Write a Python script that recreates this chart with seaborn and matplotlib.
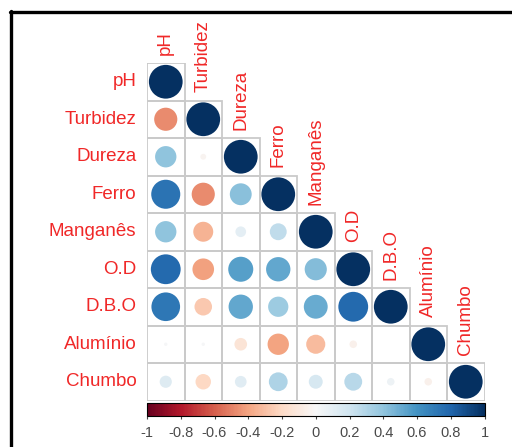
import numpy as np
import pandas as pd
import matplotlib
matplotlib.use("Agg")
import matplotlib.pyplot as plt
from matplotlib.patches import Rectangle
from matplotlib.lines import Line2D
import seaborn as sns

labels = ["pH", "Turbidez", "Dureza", "Ferro", "Manganês", "O.D", "D.B.O", "Alumínio", "Chumbo"]

# lower triangle of the correlation matrix, one row per variable
r_ph = [1.0]
r_turbidez = [-0.47, 1.0]
r_dureza = [0.40, -0.03, 1.0]
r_ferro = [0.74, -0.47, 0.42, 1.0]
r_manganes = [0.40, -0.35, 0.10, 0.25, 1.0]
r_od = [0.78, -0.41, 0.55, 0.52, 0.43, 1.0]
r_dbo = [0.72, -0.27, 0.52, 0.36, 0.50, 0.78, 1.0]
r_aluminio = [0.01, 0.01, -0.14, -0.40, -0.32, -0.05, 0.0, 1.0]
r_chumbo = [0.13, -0.21, 0.12, 0.31, 0.17, 0.28, 0.05, -0.05, 1.0]
rows = [r_ph, r_turbidez, r_dureza, r_ferro, r_manganes, r_od, r_dbo, r_aluminio, r_chumbo]

cbar_ticks = [-1, -0.8, -0.6, -0.4, -0.2, 0, 0.2, 0.4, 0.6, 0.8, 1]

records = []
for i, row in enumerate(rows):
    for j, r in enumerate(row):
        records.append({"row": i, "col": j, "r": r, "absr": abs(r)})
df = pd.DataFrame(records)

sns.set_style("white")
plt.rcParams["font.family"] = ["Liberation Sans", "DejaVu Sans"]

W, H = 512, 447
fig = plt.figure(figsize=(W / 100, H / 100), dpi=100)

n = len(labels)
x0, y0, cell = 147, 63, 37.5
ax = fig.add_axes([x0 / W, 1 - (y0 + n * cell) / H, n * cell / W, n * cell / H])

# grid cells of the lower triangle
for i in range(n):
    for j in range(i + 1):
        ax.add_patch(Rectangle((j - 0.5, i - 0.5), 1, 1, fill=False,
                               edgecolor="#cacaca", linewidth=1.3, zorder=1))

cell_pt = cell * 72 / 100
smax = (0.9 * cell_pt) ** 2
sns.scatterplot(data=df, x="col", y="row", hue="r", palette="RdBu",
                hue_norm=(-1, 1), size="absr", sizes=(0, smax), size_norm=(0, 1),
                linewidth=0, legend=False, ax=ax, zorder=2)

ax.set_xlim(-0.5, n - 0.5)
ax.set_ylim(n - 0.5, -0.5)
ax.set_axis_off()

for i, lab in enumerate(labels):
    ax.text(-0.78, i, lab, ha="right", va="center", color="#f02828", fontsize=13.5)
    ax.text(i, i - 0.72, lab, ha="center", va="bottom", rotation=90,
            color="#f02828", fontsize=13.5, clip_on=False)

# colour bar
cax = fig.add_axes([x0 / W, 1 - 416 / H, n * cell / W, 13 / H])
sm = plt.cm.ScalarMappable(cmap="RdBu", norm=plt.Normalize(-1, 1))
cbar = fig.colorbar(sm, cax=cax, orientation="horizontal", ticks=cbar_ticks)
cbar.ax.set_xticklabels([f"{t:g}" for t in cbar_ticks])
cbar.outline.set_edgecolor("black")
cbar.outline.set_linewidth(0.8)
cbar.ax.tick_params(length=2.5, width=0.8, color="#444444", labelsize=10.5,
                    labelcolor="#4a4a4a", pad=5)

# frame lines at top and left
fig.add_artist(Line2D([10 / W, 1], [1 - 11.5 / H, 1 - 11.5 / H], color="black", linewidth=2.4))
fig.add_artist(Line2D([10.5 / W, 10.5 / W], [0, 1 - 11 / H], color="black", linewidth=2.4))

fig.savefig("out.png", dpi=100)
